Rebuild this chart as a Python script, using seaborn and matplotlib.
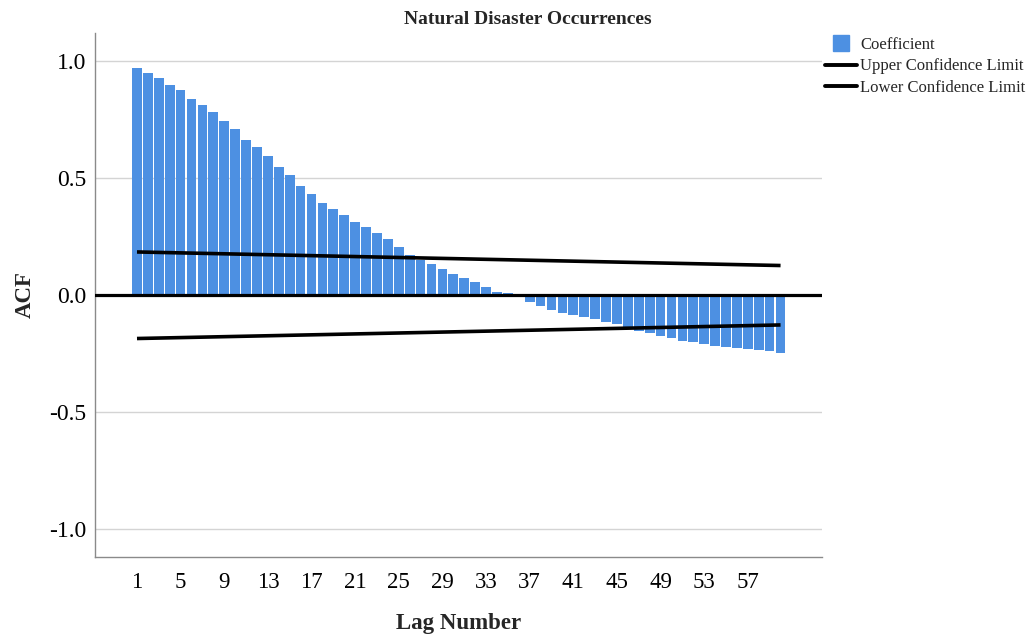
import matplotlib
matplotlib.use("Agg")
import matplotlib.pyplot as plt
from matplotlib.lines import Line2D
import pandas as pd
import seaborn as sns

# Autocorrelation coefficients by lag
lags = list(range(1, 61))
acf = [0.969, 0.947, 0.926, 0.897, 0.876, 0.838, 0.812, 0.781, 0.744, 0.709,
       0.662, 0.631, 0.594, 0.548, 0.513, 0.466, 0.430, 0.395, 0.366, 0.341,
       0.311, 0.292, 0.264, 0.238, 0.207, 0.171, 0.150, 0.131, 0.110, 0.090,
       0.071, 0.054, 0.036, 0.014, 0.008, 0.002, -0.029, -0.046, -0.064, -0.076,
       -0.085, -0.095, -0.104, -0.116, -0.126, -0.138, -0.152, -0.164, -0.174, -0.185,
       -0.195, -0.202, -0.209, -0.217, -0.221, -0.225, -0.231, -0.236, -0.239, -0.249]

# Confidence limits at the first and last lag
limit_lags = [1, 60]
upper_limit = [0.184, 0.126]
lower_limit = [-0.186, -0.128]

x_tick_lags = list(range(1, 61, 4))[:15]
y_ticks = [-1.0, -0.5, 0.0, 0.5, 1.0]
y_tick_labels = ["-1.0", "-0.5", "0.0", "0.5", "1.0"]

sns.set_theme(style="white")
plt.rcParams["font.family"] = ["Liberation Serif", "DejaVu Serif"]

W, H = 1029, 637
fig = plt.figure(figsize=(W / 100, H / 100), dpi=100)
ax = fig.add_axes([95 / W, 1 - 557 / H, (822 - 95) / W, (557 - 33) / H])

df = pd.DataFrame({"Lag": lags, "ACF": acf})
bar_color = "#4d90e2"
sns.barplot(data=df, x="Lag", y="ACF", color=bar_color, width=0.89,
            saturation=1, linewidth=0, ax=ax, zorder=2)

# grid lines
for yv in y_ticks:
    ax.axhline(yv, color="#d4d4d4", lw=1.0, zorder=0)
ax.axhline(0, color="black", lw=2.3, zorder=4)

pos = [l - 1 for l in limit_lags]
ax.plot(pos, upper_limit, color="black", lw=2.6, solid_capstyle="butt", zorder=5)
ax.plot(pos, lower_limit, color="black", lw=2.6, solid_capstyle="butt", zorder=5)

ax.set_xlim(-3.85, 62.8)
ax.set_ylim(-1.12, 1.12)
ax.set_yticks(y_ticks)
ax.set_yticklabels(y_tick_labels)
ax.set_xticks([l - 1 for l in x_tick_lags])
ax.set_xticklabels([str(l) for l in x_tick_lags])
ax.tick_params(axis="both", length=0, colors="black")
ax.tick_params(axis="y", pad=6, labelsize=17)
ax.tick_params(axis="x", pad=11, labelsize=16.5)

for side in ["top", "right"]:
    ax.spines[side].set_visible(False)
for side in ["left", "bottom"]:
    ax.spines[side].set_color("#8a8a8a")
    ax.spines[side].set_linewidth(1.0)

ax.set_xlabel("Lag Number", fontsize=16.5, fontweight="bold", labelpad=14)
ax.set_ylabel("ACF", fontsize=16.5, fontweight="bold", labelpad=10)
fig.text(528 / W, 1 - 19 / H, "Natural Disaster Occurrences", fontsize=14,
         fontweight="bold", ha="center", va="center")

handles = [
    Line2D([], [], marker="s", linestyle="none", markersize=12,
           markerfacecolor=bar_color, markeredgecolor=bar_color),
    Line2D([], [], color="black", lw=2.8),
    Line2D([], [], color="black", lw=2.8),
]
fig.legend(handles, ["Coefficient", "Upper Confidence Limit", "Lower Confidence Limit"],
           loc="upper left", bbox_to_anchor=(825 / W, 1 - 37 / H), frameon=False,
           fontsize=12, handlelength=1.92, handletextpad=0.18, labelspacing=0.33,
           borderpad=0, borderaxespad=0)

fig.savefig("out.png", dpi=100)
